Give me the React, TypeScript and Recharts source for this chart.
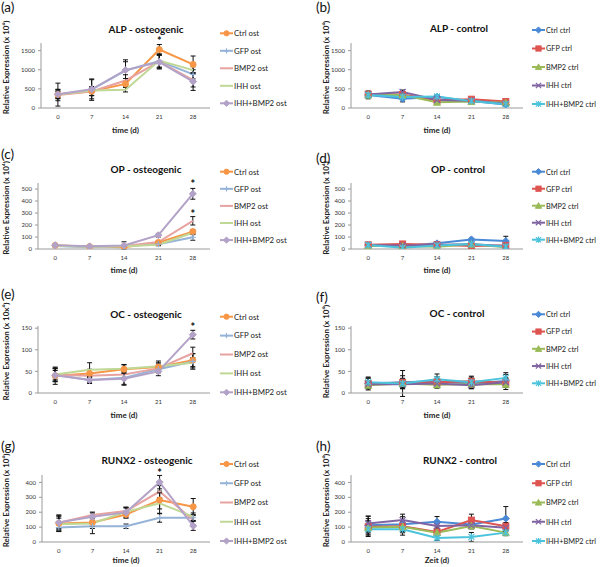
import React from 'react';
import { LineChart, Line, XAxis, YAxis, ErrorBar, ReferenceDot } from 'recharts';

const FONT = 'Lato, "Open Sans", sans-serif';

const days = ['0', '7', '14', '21', '28'];
const ostNames = ['Ctrl ost', 'GFP ost', 'BMP2 ost', 'IHH ost', 'IHH+BMP2 ost'];
const ctrlNames = ['Ctrl ctrl', 'GFP ctrl', 'BMP2 ctrl', 'IHH ctrl', 'IHH+BMP2 ctrl'];

// (a) ALP - osteogenic
const alpOstValues = [
  [350, 440, 630, 1530, 1140],
  [350, 480, 980, 1230, 880],
  [340, 430, 720, 1210, 730],
  [355, 460, 480, 1240, 990],
  [360, 490, 990, 1200, 690],
];
const alpOstErrors = [
  [100, 120, 80, 130, 220],
  [300, 280, 280, 180, 120],
  [150, 100, 150, 170, 180],
  [80, 60, 60, 170, 90],
  [120, 250, 220, 180, 230],
];
// (b) ALP - control
const alpCtrlValues = [
  [340, 240, 290, 180, 90],
  [360, 350, 200, 230, 170],
  [340, 340, 150, 170, 140],
  [350, 420, 210, 190, 110],
  [340, 290, 300, 180, 100],
];
const alpCtrlErrors = [
  [100, 80, 40, 40, 40],
  [80, 60, 40, 30, 40],
  [60, 40, 40, 40, 30],
  [60, 50, 40, 30, 30],
  [60, 40, 40, 30, 40],
];
// (c) OP - osteogenic
const opOstValues = [
  [30, 20, 15, 55, 145],
  [25, 15, 25, 40, 98],
  [30, 20, 25, 58, 235],
  [28, 18, 22, 35, 135],
  [32, 22, 30, 115, 460],
];
const opOstErrors = [
  [8, 5, 5, 10, 15],
  [5, 5, 8, 10, 25],
  [8, 5, 8, 10, 35],
  [5, 5, 5, 8, 15],
  [8, 8, 30, 15, 45],
];
// (d) OP - control
const opCtrlValues = [
  [33, 25, 47, 80, 66],
  [35, 42, 35, 25, 30],
  [25, 25, 19, 40, 15],
  [33, 30, 35, 40, 25],
  [33, 11, 30, 41, 19],
];
const opCtrlErrors = [
  [20, 8, 15, 10, 40],
  [10, 10, 8, 8, 8],
  [8, 6, 6, 8, 5],
  [8, 8, 8, 8, 8],
  [8, 5, 8, 8, 6],
];
// (e) OC - osteogenic
const ocOstValues = [
  [40, 45, 55, 60, 76],
  [42, 30, 35, 55, 73],
  [42, 40, 43, 57, 92],
  [43, 54, 56, 62, 70],
  [41, 30, 33, 50, 135],
];
const ocOstErrors = [
  [20, 10, 10, 10, 15],
  [15, 8, 15, 8, 18],
  [10, 8, 10, 10, 14],
  [15, 16, 10, 12, 12],
  [15, 5, 15, 10, 10],
];
// (f) OC - control
const ocCtrlValues = [
  [22, 25, 27, 22, 28],
  [22, 24, 25, 27, 24],
  [18, 22, 19, 20, 20],
  [20, 20, 22, 18, 25],
  [25, 22, 32, 25, 35],
];
const ocCtrlErrors = [
  [15, 15, 10, 12, 15],
  [12, 10, 8, 12, 10],
  [8, 10, 8, 8, 12],
  [8, 10, 8, 8, 10],
  [10, 30, 12, 12, 12],
];
// (g) RUNX2 - osteogenic
const runxOstValues = [
  [125, 131, 185, 282, 237],
  [97, 106, 106, 163, 163],
  [130, 181, 208, 339, 147],
  [120, 124, 203, 260, 170],
  [131, 170, 199, 402, 108],
];
const runxOstErrors = [
  [55, 40, 25, 60, 55],
  [25, 50, 15, 30, 20],
  [40, 20, 25, 40, 30],
  [40, 20, 25, 70, 25],
  [50, 25, 35, 45, 30],
];
// (h) RUNX2 - control
const runxCtrlValues = [
  [113, 120, 136, 118, 158],
  [102, 105, 68, 147, 106],
  [97, 102, 63, 108, 63],
  [124, 147, 108, 113, 95],
  [86, 86, 27, 34, 63],
];
const runxCtrlErrors = [
  [60, 50, 35, 25, 80],
  [40, 30, 20, 40, 25],
  [60, 40, 20, 20, 20],
  [50, 40, 30, 20, 25],
  [40, 40, 15, 30, 20],
];

// significance marks (category, value where the mark sits)
const alpStars = [{ day: '21', value: 1770 }];
const opStars = [{ day: '28', value: 548 }, { day: '28', value: 304 }];
const ocStars = [{ day: '28', value: 155 }];
const runxStars = [{ day: '21', value: 468 }];

const ostStyles = [
  { color: '#F79646', marker: 'circle' },
  { color: '#95B3D7', marker: 'plus' },
  { color: '#E6A3A1', marker: 'none' },
  { color: '#C0D896', marker: 'none' },
  { color: '#B3A2C7', marker: 'diamond' },
];
const ctrlStyles = [
  { color: '#4A89D6', marker: 'diamond' },
  { color: '#DD5450', marker: 'square' },
  { color: '#9BBB59', marker: 'triangle' },
  { color: '#8064A2', marker: 'x' },
  { color: '#4BC3DC', marker: 'star' },
];

function buildRows(values: number[][], errors: number[][]) {
  return days.map((d, i) => {
    const row: any = { day: d };
    values.forEach((s, k) => {
      row['v' + k] = s[i];
      row['e' + k] = errors[k][i];
    });
    return row;
  });
}

function Marker({ shape, cx, cy, color, small }: any) {
  if (cx == null || cy == null) return null;
  const s = small ? 2.6 : 3;
  switch (shape) {
    case 'circle':
      return <circle cx={cx} cy={cy} r={s} fill={color} stroke={color} />;
    case 'plus':
      return <path d={`M${cx - s},${cy}h${2 * s}M${cx},${cy - s}v${2 * s}`} stroke={color} strokeWidth={1.2} fill="none" />;
    case 'diamond':
      return <path d={`M${cx},${cy - s - 0.5}L${cx + s + 0.5},${cy}L${cx},${cy + s + 0.5}L${cx - s - 0.5},${cy}Z`} fill={color} stroke={color} />;
    case 'square':
      return <rect x={cx - s} y={cy - s} width={2 * s} height={2 * s} fill={color} stroke={color} />;
    case 'triangle':
      return <path d={`M${cx},${cy - s - 0.5}L${cx + s + 0.5},${cy + s}L${cx - s - 0.5},${cy + s}Z`} fill={color} stroke={color} />;
    case 'x':
      return <path d={`M${cx - s},${cy - s}L${cx + s},${cy + s}M${cx - s},${cy + s}L${cx + s},${cy - s}`} stroke={color} strokeWidth={1.3} fill="none" />;
    case 'star':
      return <path d={`M${cx - s},${cy - s}L${cx + s},${cy + s}M${cx - s},${cy + s}L${cx + s},${cy - s}M${cx},${cy - s - 0.5}v${2 * s + 1}`} stroke={color} strokeWidth={1.2} fill="none" />;
    default:
      return null;
  }
}

type PanelCfg = {
  key: string;
  x0: number;
  L: number;
  R: number;
  T: number;
  B: number;
  max: number;
  ticks: number[];
  values: number[][];
  errors: number[][];
  kind: 'ost' | 'ctrl';
  stars: { day: string; value: number }[];
  label: string;
  labelY: number;
  title: string;
  titleX: number;
  titleY: number;
  xLabel: string;
  xLabelY: number;
  yLabel: string;
  legendY: number;
  legendStep: number;
};

const panels: PanelCfg[] = [
  { key: 'a', x0: 0, L: 41, R: 210, T: 43, B: 108, max: 1700, ticks: [0, 500, 1000, 1500], values: alpOstValues, errors: alpOstErrors, kind: 'ost', stars: alpStars, label: '(a)', labelY: 12, title: 'ALP - osteogenic', titleX: 146, titleY: 33, xLabel: 'time (d)', xLabelY: 133, yLabel: 'Relative Expression (x 10⁴)', legendY: 33.3, legendStep: 17.5 },
  { key: 'b', x0: 300, L: 351, R: 523, T: 43, B: 108, max: 1700, ticks: [0, 500, 1000, 1500], values: alpCtrlValues, errors: alpCtrlErrors, kind: 'ctrl', stars: [], label: '(b)', labelY: 12, title: 'ALP - control', titleX: 459, titleY: 32, xLabel: 'time (d)', xLabelY: 133, yLabel: 'Relative Expression (x 10⁴)', legendY: 30, legendStep: 18.5 },
  { key: 'c', x0: 0, L: 38, R: 210, T: 183, B: 249, max: 550, ticks: [0, 100, 200, 300, 400, 500], values: opOstValues, errors: opOstErrors, kind: 'ost', stars: opStars, label: '(c)', labelY: 159, title: 'OP - osteogenic', titleX: 146, titleY: 173, xLabel: 'time (d)', xLabelY: 273, yLabel: 'Relative Expression (x 10⁴)', legendY: 171.7, legendStep: 17.1 },
  { key: 'd', x0: 300, L: 351, R: 523, T: 183, B: 249, max: 550, ticks: [0, 100, 200, 300, 400, 500], values: opCtrlValues, errors: opCtrlErrors, kind: 'ctrl', stars: [], label: '(d)', labelY: 163, title: 'OP - control', titleX: 458, titleY: 173, xLabel: 'time (d)', xLabelY: 273, yLabel: 'Relative Expression (x 10⁴)', legendY: 171.7, legendStep: 17 },
  { key: 'e', x0: 0, L: 38, R: 210, T: 326, B: 393, max: 155, ticks: [0, 50, 100, 150], values: ocOstValues, errors: ocOstErrors, kind: 'ost', stars: ocStars, label: '(e)', labelY: 299, title: 'OC - osteogenic', titleX: 146, titleY: 318, xLabel: 'time (d)', xLabelY: 418, yLabel: 'Relative Expression (x 10x⁴)', legendY: 316.7, legendStep: 18.9 },
  { key: 'f', x0: 300, L: 351, R: 523, T: 326, B: 393, max: 155, ticks: [0, 50, 100, 150], values: ocCtrlValues, errors: ocCtrlErrors, kind: 'ctrl', stars: [], label: '(f)', labelY: 302, title: 'OC - control', titleX: 457, titleY: 317, xLabel: 'time (d)', xLabelY: 418, yLabel: 'Relative Expression (x 10⁴)', legendY: 314.3, legendStep: 17.25 },
  { key: 'g', x0: 0, L: 42, R: 210, T: 475, B: 542, max: 450, ticks: [0, 100, 200, 300, 400], values: runxOstValues, errors: runxOstErrors, kind: 'ost', stars: runxStars, label: '(g)', labelY: 451, title: 'RUNX2 - osteogenic', titleX: 147, titleY: 464, xLabel: 'time (d)', xLabelY: 563, yLabel: 'Relative Expression (x 10⁴)', legendY: 464, legendStep: 19.25 },
  { key: 'h', x0: 300, L: 351, R: 523, T: 475, B: 542, max: 450, ticks: [0, 100, 200, 300, 400], values: runxCtrlValues, errors: runxCtrlErrors, kind: 'ctrl', stars: [], label: '(h)', labelY: 451, title: 'RUNX2 - control', titleX: 460, titleY: 464, xLabel: 'Zeit (d)', xLabelY: 563, yLabel: 'Relative Expression (x 10⁴)', legendY: 464, legendStep: 19.25 },
];

const AXIS = '#9a9a9a';
const TICK = { fontSize: 6, fill: '#333', fontFamily: FONT };

function Panel({ cfg }: { cfg: PanelCfg }) {
  const { x0, L, R, T, B, max, ticks } = cfg;
  const chartTop = T - 8;
  const xAxisH = 16;
  const height = B - chartTop + xAxisH + 2;
  const rows = buildRows(cfg.values, cfg.errors);
  const styles = cfg.kind === 'ost' ? ostStyles : ctrlStyles;
  const names = cfg.kind === 'ost' ? ostNames : ctrlNames;
  const pad = (R - L) / 10;
  return (
    <div style={{ position: 'absolute', left: x0, top: chartTop, width: 300, height }}>
      <LineChart
        width={300}
        height={height}
        data={rows}
        margin={{ top: T - chartTop, right: x0 + 300 - R, bottom: 2, left: 0 }}
      >
        <XAxis
          dataKey="day"
          height={xAxisH}
          interval={0}
          padding={{ left: pad, right: pad }}
          tickLine={false}
          tickSize={5}
          axisLine={{ stroke: AXIS }}
          tick={TICK}
        />
        <YAxis
          width={L - x0}
          domain={[0, max]}
          ticks={ticks}
          interval={0}
          allowDataOverflow
          tickSize={3}
          tickMargin={3}
          tickLine={{ stroke: AXIS }}
          axisLine={{ stroke: AXIS }}
          tick={TICK}
        />
        {names.map((name, k) => (
          <Line
            key={name}
            dataKey={'v' + k}
            name={name}
            stroke={styles[k].color}
            strokeWidth={2}
            isAnimationActive={false}
            dot={
              styles[k].marker === 'none'
                ? false
                : (p: any) => (
                    <g key={`dot-${k}-${p.index}`}>
                      <Marker shape={styles[k].marker} cx={p.cx} cy={p.cy} color={styles[k].color} />
                    </g>
                  )
            }
            activeDot={false}
          >
            <ErrorBar dataKey={'e' + k} width={2.5} stroke="#111" strokeWidth={1} direction="y" />
          </Line>
        ))}
        {cfg.stars.map((s, i) => (
          <ReferenceDot
            key={'star' + i}
            x={s.day}
            y={s.value}
            r={0}
            ifOverflow="visible"
            shape={(p: any) => (
              <text x={p.cx} y={p.cy + 5} textAnchor="middle" fontSize={11} fontWeight="bold" fontFamily={FONT} fill="#111">
                *
              </text>
            )}
          />
        ))}
      </LineChart>
    </div>
  );
}

function Overlay() {
  return (
    <svg width={600} height={567} style={{ position: 'absolute', left: 0, top: 0, pointerEvents: 'none' }}>
      {panels.map((cfg) => {
        const styles = cfg.kind === 'ost' ? ostStyles : ctrlStyles;
        const names = cfg.kind === 'ost' ? ostNames : ctrlNames;
        const isLeft = cfg.x0 === 0;
        const lx1 = isLeft ? 220 : 532;
        const lx2 = isLeft ? 233 : 545;
        const tx = isLeft ? 234 : 546;
        const yLabelX = cfg.x0 + (isLeft ? 8.5 : 29);
        const yLabelY = (cfg.T + cfg.B) / 2 - 8;
        const plotCenter = (cfg.L + cfg.R) / 2;
        return (
          <g key={cfg.key} fontFamily={FONT}>
            <text x={cfg.x0 + (isLeft ? 1 : 16)} y={cfg.labelY} fontSize={13.5} fill="#111">
              {cfg.label}
            </text>
            <text x={cfg.titleX} y={cfg.titleY} fontSize={10} fontWeight="bold" textAnchor="middle" fill="#111">
              {cfg.title}
            </text>
            <text x={plotCenter} y={cfg.xLabelY} fontSize={8} fontWeight="bold" textAnchor="middle" fill="#222">
              {cfg.xLabel}
            </text>
            <text
              x={yLabelX}
              y={yLabelY}
              fontSize={8}
              fontWeight="bold"
              textAnchor="middle"
              fill="#222"
              transform={`rotate(-90 ${yLabelX} ${yLabelY})`}
            >
              {cfg.yLabel}
            </text>
            {names.map((n, k) => {
              const y = cfg.legendY + k * cfg.legendStep;
              const cx = (lx1 + lx2) / 2;
              return (
                <g key={n}>
                  <line x1={lx1} y1={y} x2={lx2} y2={y} stroke={styles[k].color} strokeWidth={2} />
                  <Marker shape={styles[k].marker} cx={cx} cy={y} color={styles[k].color} small />
                  <text x={tx} y={y + 2.8} fontSize={isLeft ? 7.8 : 7.3} fill="#222">
                    {n}
                  </text>
                </g>
              );
            })}
          </g>
        );
      })}
    </svg>
  );
}

export default function App() {
  return (
    <div style={{ position: 'absolute', left: 0, top: 0, width: 600, height: 567, background: '#fff', fontFamily: FONT }}>
      {panels.map((cfg) => (
        <Panel key={cfg.key} cfg={cfg} />
      ))}
      <Overlay />
    </div>
  );
}
